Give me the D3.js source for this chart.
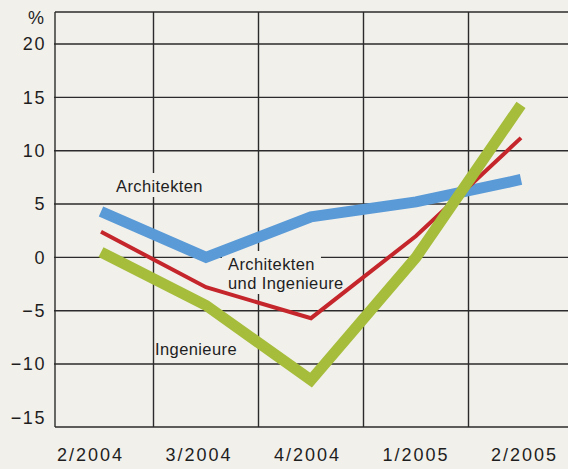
<!DOCTYPE html>
<html>
<head>
<meta charset="utf-8">
<script src="https://cdn.jsdelivr.net/npm/d3@7"></script>
<style>
  html, body { margin: 0; padding: 0; background: #f2f0eb; }
  svg { display: block; }
  text { font-family: "Liberation Sans", Arial, sans-serif; fill: #1e1e1e; }
</style>
</head>
<body>
<div id="chart"></div>
<script>
// quarters on the x axis
const quarters = ["2/2004", "3/2004", "4/2004", "1/2005", "2/2005"];
// change in % per group
const architekten = [4.3, 0.0, 3.8, 5.2, 7.3];
const beide = [2.4, -2.8, -5.7, 2.0, 11.2];
const ingenieure = [0.5, -4.5, -11.5, 0.0, 14.3];
const yTicks = [20, 15, 10, 5, 0, -5, -10, -15];

const W = 568, H = 469;
const plotL = 55, plotR = 568, plotT = 12, plotB = 427;

const svg = d3.select("#chart").append("svg")
    .attr("width", W)
    .attr("height", H);

svg.append("rect")
    .attr("width", W)
    .attr("height", H)
    .attr("fill", "#f2f0eb");

// scales
const x = d3.scalePoint()
    .domain(quarters)
    .range([101, 521]);
const step = x.step();
// the printed labels sit a little off the data points
const xLab = d3.scalePoint()
    .domain(quarters)
    .range([90, 524]);
const y = d3.scaleLinear()
    .domain([-15.9, 23])
    .range([plotB, plotT]);

const ink = "#2b2b2b";

// grid
const grid = svg.append("g").attr("stroke", ink).attr("stroke-width", 1.4);
grid.selectAll(".hl")
    .data(yTicks.filter(d => d > -15))
    .enter().append("line")
    .attr("x1", plotL - 1).attr("x2", plotR)
    .attr("y1", d => y(d)).attr("y2", d => y(d));
grid.selectAll(".vl")
    .data(quarters.slice(1))
    .enter().append("line")
    .attr("x1", d => x(d) - step / 2).attr("x2", d => x(d) - step / 2)
    .attr("y1", plotT).attr("y2", plotB);
// frame: top, left, bottom
grid.append("line").attr("x1", plotL).attr("x2", plotR).attr("y1", plotT).attr("y2", plotT);
grid.append("line").attr("x1", plotL).attr("x2", plotL).attr("y1", plotT).attr("y2", plotB);
grid.append("line").attr("x1", plotL).attr("x2", plotR).attr("y1", plotB).attr("y2", plotB);

// y axis labels
const yAxis = d3.axisLeft(y)
    .tickValues(yTicks)
    .tickSize(0)
    .tickPadding(9)
    .tickFormat(d => d < 0 ? "\u2212" + Math.abs(d) : d);
const ya = svg.append("g")
    .attr("transform", "translate(" + plotL + ",0)")
    .call(yAxis);
ya.select(".domain").remove();
ya.selectAll("text")
    .style("font-family", "'Liberation Sans', Arial, sans-serif")
    .style("font-size", "18px")
    .style("letter-spacing", "1.6px")
    .attr("fill", "#1e1e1e");

svg.append("text")
    .attr("x", 44).attr("y", 24)
    .attr("text-anchor", "end")
    .style("font-size", "18px")
    .text("%");

// x axis labels
const xAxis = d3.axisBottom(xLab).tickSize(0).tickPadding(0);
const xa = svg.append("g")
    .attr("transform", "translate(0,448)")
    .call(xAxis);
xa.select(".domain").remove();
xa.selectAll("text")
    .attr("dy", "0.71em")
    .style("font-family", "'Liberation Sans', Arial, sans-serif")
    .style("font-size", "18px")
    .style("letter-spacing", "2px")
    .attr("fill", "#1e1e1e");

// series labels (paper-coloured knockout behind some of them)
const labels = svg.append("g");
function label(txt, lx, ly, knock) {
    const t = labels.append("text")
        .attr("x", lx).attr("y", ly)
        .style("font-size", "16.5px")
        .style("letter-spacing", "0.4px")
        .text(txt);
    if (knock) {
        const b = t.node().getBBox();
        labels.insert("rect", "text")
            .attr("x", b.x - 6).attr("y", b.y - 4)
            .attr("width", b.width + 12).attr("height", b.height + 6)
            .attr("fill", "#f2f0eb");
    }
}
label("Architekten", 116, 192, true);
label("Architekten", 228, 270, true);
label("und Ingenieure", 228, 289, true);
label("Ingenieure", 155, 355, false);

// lines
const line = d3.line()
    .x((d, i) => x(quarters[i]))
    .y(d => y(d));

const series = [
    { values: architekten, color: "#5a9ad6", width: 11 },
    { values: beide, color: "#c4262b", width: 4 },
    { values: ingenieure, color: "#a5bd3b", width: 11 }
];

svg.selectAll(".series")
    .data(series)
    .enter().append("path")
    .attr("class", "series")
    .attr("d", d => line(d.values))
    .attr("fill", "none")
    .attr("stroke", d => d.color)
    .attr("stroke-width", d => d.width)
    .attr("stroke-linejoin", "miter")
    .attr("stroke-linecap", "butt");
</script>
</body>
</html>
